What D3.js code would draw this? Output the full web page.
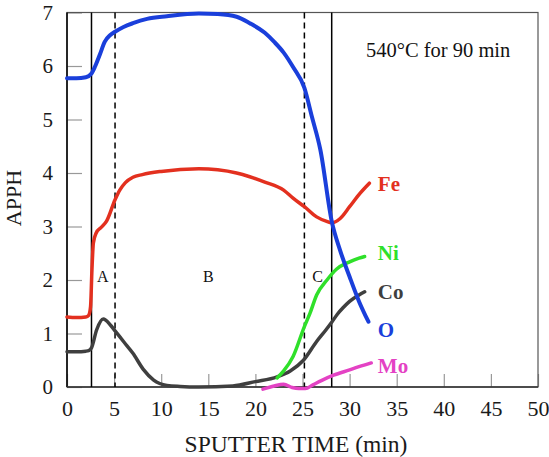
<!DOCTYPE html>
<html>
<head>
<meta charset="utf-8">
<script src="https://cdn.jsdelivr.net/npm/d3@7"></script>
<style>
  body { margin: 0; background: #fff; }
  svg { display: block; }
  text { font-family: 'Liberation Serif', 'Times New Roman', serif; }
</style>
</head>
<body>
<div id="container"></div>
<script>
// data
let timeO = [0, 1, 2, 2.6, 3.0, 3.5, 4.0, 4.6, 5.1, 6, 7, 8.5, 10.6, 14, 16, 18, 19.4, 21, 22, 23, 24, 25.2, 26.0, 26.9, 28.1, 29, 30, 31, 32];
let valO  = [5.77, 5.77, 5.79, 5.86, 6.0, 6.22, 6.45, 6.58, 6.64, 6.73, 6.8, 6.88, 6.93, 6.98, 6.97, 6.92, 6.8, 6.62, 6.45, 6.25, 5.98, 5.59, 5.05, 4.43, 3.1, 2.55, 2.06, 1.6, 1.22];

let timeFe = [0, 1, 2, 2.3, 2.5, 2.65, 2.8, 3.1, 3.6, 4.2, 5.1, 5.6, 6.2, 7, 8, 10, 14, 16, 18, 19.4, 21, 23, 24, 25.2, 26.5, 27.5, 28.1, 29, 30, 31.1, 32.1];
let valFe  = [1.31, 1.3, 1.31, 1.34, 1.5, 2.2, 2.69, 2.88, 2.98, 3.1, 3.5, 3.68, 3.82, 3.92, 3.97, 4.03, 4.08, 4.06, 4.0, 3.93, 3.83, 3.68, 3.53, 3.37, 3.18, 3.1, 3.07, 3.15, 3.37, 3.62, 3.81];

let timeNi = [22.3, 23, 24, 25.2, 25.8, 26.5, 27.6, 28.6, 30, 31, 31.6];
let valNi  = [0.17, 0.3, 0.57, 1.13, 1.38, 1.72, 2.0, 2.2, 2.34, 2.41, 2.44];

let timeCo = [0, 1, 2, 2.3, 2.6, 3.15, 3.85, 4.6, 5.1, 6, 7, 8.1, 9.2, 10.6, 12, 14, 17.6, 20, 22.3, 23.7, 25.1, 26.5, 27.5, 28.1, 28.7, 29.3, 30, 31, 31.6];
let valCo  = [0.66, 0.66, 0.67, 0.68, 0.73, 1.07, 1.27, 1.16, 1.05, 0.85, 0.63, 0.33, 0.13, 0.03, 0.01, 0.0, 0.02, 0.1, 0.19, 0.3, 0.5, 0.85, 1.07, 1.21, 1.36, 1.48, 1.6, 1.72, 1.78];

let timeMo = [20.8, 22, 23, 23.9, 24.6, 25.3, 26.1, 27, 28.3, 30, 31, 32.3];
let valMo  = [-0.04, 0.02, 0.05, -0.01, -0.03, -0.03, 0.04, 0.12, 0.22, 0.32, 0.38, 0.45];

let elements = ["Fe", "Ni", "Co", "O", "Mo"];
let labelY = [3.8, 2.52, 1.79, 1.07, 0.39];

// boundary lines between zones
let solidLines = [2.6, 28.1];
let dashedLines = [5.1, 25.2];
let zoneNames = ["A", "B", "C"];
let zoneX = [3.8, 15, 26.6];

let xTicks = [0, 5, 10, 15, 20, 25, 30, 35, 40, 45, 50];
let yTicks = [0, 1, 2, 3, 4, 5, 6, 7];

let w = 549;
let h = 457;
let padL = 67, padR = 538, padT = 12.5, padB = 387;
let font = "'Liberation Serif', 'Times New Roman', serif";

let viz = d3.select("#container")
  .append("svg")
    .attr("width", w)
    .attr("height", h);

let xScale = d3.scaleLinear().domain([0, 50]).range([padL, padR]);
let yScale = d3.scaleLinear().domain([0, 7]).range([padB, padT]);

// axes with inward gray ticks
let xAxis = d3.axisBottom(xScale).tickValues(xTicks).tickFormat(d3.format("d"))
  .tickSizeInner(-13).tickSizeOuter(0).tickPadding(13);
let xAxisGroup = viz.append("g").attr("transform", "translate(0," + padB + ")").call(xAxis);
let yAxis = d3.axisLeft(yScale).tickValues(yTicks).tickFormat(d3.format("d"))
  .tickSizeInner(-15).tickSizeOuter(0).tickPadding(14);
let yAxisGroup = viz.append("g").attr("transform", "translate(" + padL + ",0)").call(yAxis);

[xAxisGroup, yAxisGroup].forEach(function(g){
  g.attr("font-family", font).attr("font-size", null);
  g.select(".domain").remove();
  g.selectAll(".tick line").attr("stroke", "#999").attr("stroke-width", 1.2);
  g.selectAll(".tick text")
    .attr("font-family", font)
    .style("font-family", font)
    .attr("fill", "#1a1a1a");
});
xAxisGroup.selectAll(".tick text").style("font-size", "22px");
yAxisGroup.selectAll(".tick text").style("font-size", "21px");

// frame
viz.append("rect")
  .attr("x", padL).attr("y", padT)
  .attr("width", padR - padL).attr("height", padB - padT)
  .attr("fill", "none").attr("stroke", "#555").attr("stroke-width", 1.2);
viz.append("line")
  .attr("x1", padL).attr("x2", padL).attr("y1", padT).attr("y2", padB)
  .attr("stroke", "#000").attr("stroke-width", 1.5);
viz.append("line")
  .attr("x1", padL).attr("x2", padR).attr("y1", padB).attr("y2", padB)
  .attr("stroke", "#333").attr("stroke-width", 1.5);

// zone boundaries
viz.selectAll(".solid").data(solidLines).enter()
  .append("line")
    .attr("x1", function(d){ return xScale(d); })
    .attr("x2", function(d){ return xScale(d); })
    .attr("y1", padT).attr("y2", padB)
    .attr("stroke", "#000").attr("stroke-width", 1.5);
viz.selectAll(".dashed").data(dashedLines).enter()
  .append("line")
    .attr("x1", function(d){ return xScale(d); })
    .attr("x2", function(d){ return xScale(d); })
    .attr("y1", padT).attr("y2", padB)
    .attr("stroke", "#000").attr("stroke-width", 1.5)
    .attr("stroke-dasharray", "6,4");

viz.selectAll(".zone").data(zoneNames).enter()
  .append("text")
    .text(function(d){ return d; })
    .attr("x", function(d, i){ return xScale(zoneX[i]); })
    .attr("y", yScale(1.97))
    .attr("text-anchor", "middle")
    .style("font-size", "16px")
    .attr("fill", "#111");

// curves
let series = [
  { t: timeFe, v: valFe, color: "#e3301f", width: 3.5 },
  { t: timeNi, v: valNi, color: "#2fe02a", width: 3.5 },
  { t: timeCo, v: valCo, color: "#3f3f3f", width: 3.5 },
  { t: timeO,  v: valO,  color: "#1a3fdb", width: 4 },
  { t: timeMo, v: valMo, color: "#e442c4", width: 3.5 }
];
let line = d3.line()
  .x(function(d){ return xScale(d[0]); })
  .y(function(d){ return yScale(d[1]); })
  .curve(d3.curveMonotoneX);

// draw order: Co under Ni, O on top of Fe
let order = [2, 0, 1, 4, 3];
order.forEach(function(k){
  let s = series[k];
  viz.append("path")
    .datum(d3.zip(s.t, s.v))
    .attr("d", line)
    .attr("fill", "none")
    .attr("stroke", s.color)
    .attr("stroke-width", s.width)
    .attr("stroke-linecap", "round");
});

viz.selectAll(".elabel").data(elements).enter()
  .append("text")
    .text(function(d){ return d; })
    .attr("x", xScale(33))
    .attr("y", function(d, i){ return yScale(labelY[i]); })
    .attr("dy", "0.35em")
    .style("font-weight", "bold")
    .style("font-size", "21px")
    .attr("fill", function(d, i){ return series[i].color; });

viz.append("text")
  .text("540°C for 90 min")
  .attr("x", 366).attr("y", 57)
  .style("font-size", "20.5px")
  .attr("fill", "#111");

// axis titles
viz.append("text")
  .text("SPUTTER TIME (min)")
  .attr("x", 296).attr("y", 452)
  .attr("text-anchor", "middle")
  .style("font-size", "23.5px")
  .attr("fill", "#1a1a1a");
viz.append("text")
  .text("APPH")
  .attr("transform", "translate(21,198) rotate(-90)")
  .attr("text-anchor", "middle")
  .style("font-size", "22px")
  .attr("fill", "#1a1a1a");
</script>
</body>
</html>
